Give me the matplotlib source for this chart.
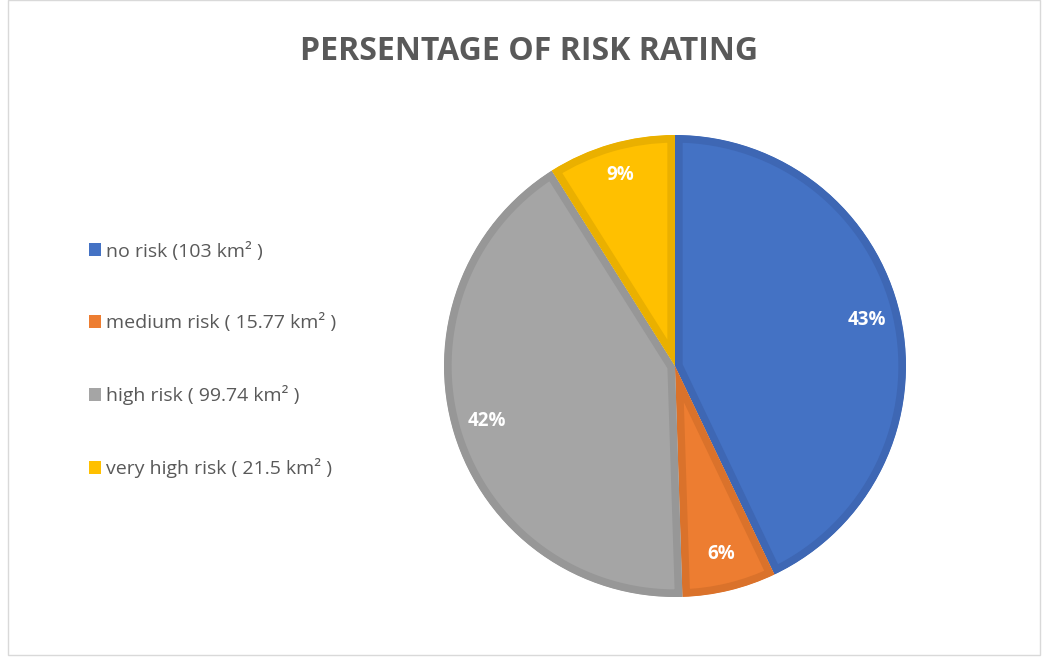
import matplotlib.pyplot as plt
from matplotlib.patches import Patch, Rectangle

labels = ['no risk (103 km² )', 'medium risk ( 15.77 km² )', 'high risk ( 99.74 km² )', 'very high risk ( 21.5 km² )']
areas = [103, 15.77, 99.74, 21.5]
pct_labels = ['43%', '6%', '42%', '9%']
fill_colors = ['#4472C4', '#ED7D31', '#A5A5A5', '#FFC000']
edge_colors = ['#3E67B4', '#DA722B', '#979797', '#EAB000']

plt.rcParams['font.family'] = ['Open Sans', 'DejaVu Sans']

fig = plt.figure(figsize=(10.42, 6.58), dpi=100)
fig.patches.append(Rectangle((0.008, 0.005), 0.99, 0.995, transform=fig.transFigure,
                             fill=False, edgecolor='#D9D9D9', linewidth=1))

ax = fig.add_axes([444 / 1042, 61 / 658, 462 / 1042, 462 / 658])
wedges, texts, autotexts = ax.pie(areas, colors=fill_colors, startangle=90, counterclock=False,
                                  radius=1, autopct='%1.0f%%', pctdistance=0.85,
                                  wedgeprops=dict(linewidth=0))
for w, ec, t, lab in zip(wedges, edge_colors, autotexts, pct_labels):
    # inner border: stroke clipped to the wedge itself
    w.set_edgecolor(ec)
    w.set_linewidth(11)
    w.set_clip_on(True)
    w.set_clip_path(w)
    t.set_text(lab)
    t.set_color('white')
    t.set_fontsize(13.5)
    t.set_fontweight('bold')
    t.set_y(t.get_position()[1] + 0.012)
ax.set_xlim(-1, 1)
ax.set_ylim(-1, 1)
ax.set_aspect('equal')

fig.text(0.508, 0.922, 'PERSENTAGE OF RISK RATING', ha='center', va='center',
         fontsize=23, fontweight='bold', color='#595959')

handles = [Patch(facecolor=c, edgecolor='none') for c in fill_colors]
fig.legend(handles, labels, loc='upper left', bbox_to_anchor=(71 / 1042, 1 - 224 / 658),
           frameon=False, fontsize=14, labelcolor='#595959', handlelength=0.62,
           handleheight=0.62, handletextpad=0.28, labelspacing=2.72)

fig.savefig('out.png', dpi=100)
